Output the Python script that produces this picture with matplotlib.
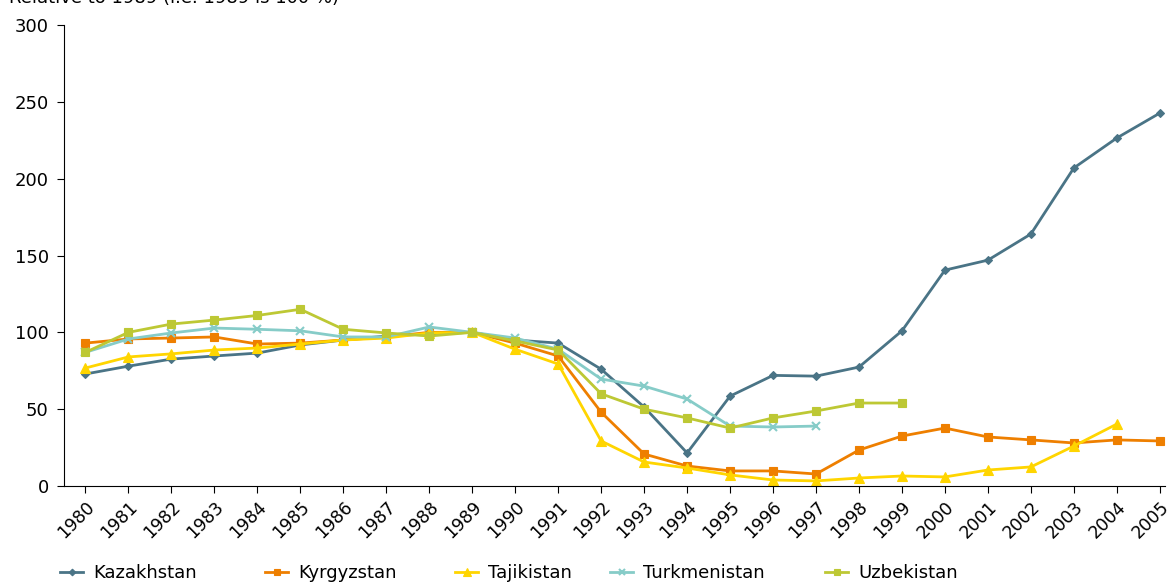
import matplotlib
matplotlib.use("Agg")
import matplotlib.pyplot as plt
import numpy as np

years = list(range(1980, 2006))

kazakhstan = [72.9, 78, 82.6, 84.6, 86.5, 91.8, 95, 97.6, 99, 100, 95, 93, 76, 51.4,
              21.5, 58.5, 72, 71.5, 77.4, 101, 140.5, 147, 164, 207, 226.5, 242.7]
kyrgyzstan = [93, 95.7, 96.3, 97, 92.4, 93, 95, 97, 100, 100, 93, 84.6, 48, 20.8,
              13, 9.8, 9.8, 7.8, 23.4, 32.5, 37.7, 31.9, 30, 28, 30, 29.3]
tajikistan = [76.8, 84, 86, 88.5, 89.8, 92.4, 95, 96.3, 99.6, 100, 89, 79.4, 29.3, 15.6,
              11.7, 7.2, 3.9, 3.3, 5.2, 6.5, 5.9, 10.4, 12.4, 26, 40.3, None]
turkmenistan = [87, 95.7, 99.6, 102.8, 102, 101, 97, 97, 103.5, 100, 96.3, 89, 69.6, 65,
                56.6, 39, 38.4, 39] + [None] * 8
uzbekistan = [87, 100, 105.4, 108, 111, 115, 102, 99.6, 97.6, 100, 94.4, 88.5, 60, 50,
              44.3, 37.7, 44.3, 48.8, 54, 54] + [None] * 6

series = [
    ("Kazakhstan", kazakhstan, "#4a7486", "D", 4.5),
    ("Kyrgyzstan", kyrgyzstan, "#ee7f00", "s", 6),
    ("Tajikistan", tajikistan, "#ffd500", "^", 7),
    ("Turkmenistan", turkmenistan, "#86ccc8", "x", 6),
    ("Uzbekistan", uzbekistan, "#bdc834", "s", 6),
]
legend_x = [60, 265, 455, 610, 825]  # legend entry start, px

fig = plt.figure(figsize=(11.68, 5.83), dpi=100)
ax = fig.add_axes([0.0548, 0.1664, 0.9426, 0.7906])

handles = []
for name, vals, col, mk, ms in series:
    y = np.array([np.nan if v is None else v for v in vals], dtype=float)
    h, = ax.plot(years, y, color=col, marker=mk, markersize=ms, linewidth=2,
                 markeredgewidth=1.5 if mk == "x" else 0.8, label=name)
    handles.append(h)

ax.set_xlim(1979.5, 2005.12)
ax.set_ylim(0, 300)
ax.set_yticks(range(0, 301, 50))
ax.set_xticks(years)
ax.set_xticklabels([str(y) for y in years], rotation=45, ha="right",
                   rotation_mode="anchor", fontsize=12.5)
ax.tick_params(axis="y", labelsize=13, length=5, pad=6)
ax.tick_params(axis="x", length=5)
for s in ["top", "right"]:
    ax.spines[s].set_visible(False)

fig.text(0.008, 1 - 3 / 583, "Relative to 1989 (i.e. 1989 is 100 %)",
         fontsize=13, va="baseline", ha="left")

for h, lx in zip(handles, legend_x):
    fig.legend(handles=[h], loc="center left", bbox_to_anchor=(lx / 1168, 1 - 573 / 583),
               frameon=False, fontsize=13, borderpad=0, borderaxespad=0,
               handlelength=1.3, handletextpad=0.55, markerscale=0.75)

fig.savefig("out.png", dpi=100)
